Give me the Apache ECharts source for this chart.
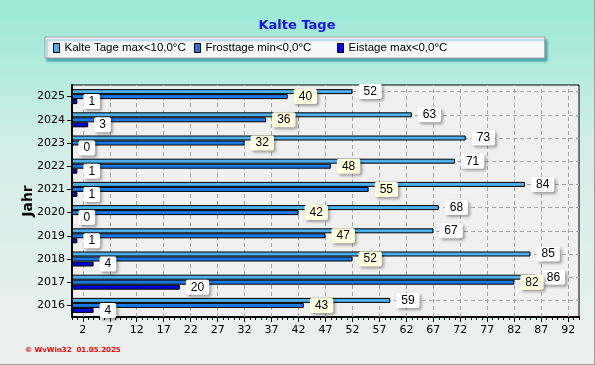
<!DOCTYPE html>
<html>
<head>
<meta charset="utf-8">
<script src="https://cdn.jsdelivr.net/npm/echarts@6/dist/echarts.min.js"></script>
<style>
html,body{margin:0;padding:0;}
#c{width:595px;height:365px;box-sizing:border-box;border-right:1px solid #a0a0a0;border-bottom:1px solid #a0a0a0;}
</style>
</head>
<body>
<div id="c"></div>
<script>
var years = ['2016','2017','2018','2019','2020','2021','2022','2023','2024','2025'];
var kalteTage = [59, 86, 85, 67, 68, 84, 71, 73, 63, 52];
var frostTage = [43, 82, 52, 47, 42, 55, 48, 32, 36, 40];
var eisTage   = [4, 20, 4, 1, 0, 1, 1, 0, 3, 1];
var xTicks = [2,7,12,17,22,27,32,37,42,47,52,57,62,67,72,77,82,87,92];
var names = ['Kalte Tage max<10,0°C', 'Frosttage min<0,0°C', 'Eistage max<0,0°C'];
var colors = ['#4eaeea', '#1a78e8', '#0000d8'];
var FONT = 'DejaVu Sans';

function labelCfg(bg) {
  return {
    show: true, position: 'right', distance: 6, formatter: '{c}',
    fontFamily: 'Liberation Sans', fontSize: 12, color: '#000',
    backgroundColor: bg, padding: [2, 5, 1, 5], borderRadius: 2,
    shadowColor: 'rgba(0,0,0,0.35)', shadowBlur: 3, shadowOffsetX: 2, shadowOffsetY: 2
  };
}

var gridLineStyle = {color: '#a8a8a8', type: [4, 3], width: 1};

var legendBase = {
  top: 37, itemWidth: 6, itemHeight: 9, itemGap: 10,
  textStyle: {fontFamily: 'Liberation Sans', fontSize: 11.5, color: '#000'},
  icon: 'rect',
  itemStyle: {borderColor: '#000', borderWidth: 1}
};
function legendAt(i, left, extra) {
  var o = Object.assign({}, legendBase, {data: [names[i]], left: left}, extra || {});
  return o;
}

var chart = echarts.init(document.getElementById('c'));
chart.setOption({
  backgroundColor: {
    type: 'linear', x: 0, y: 0, x2: 0, y2: 1,
    colorStops: [
      {offset: 0, color: '#98e9d3'},
      {offset: 0.4, color: '#d2eee6'},
      {offset: 1, color: '#eef0ef'}
    ]
  },
  animation: false,
  title: [
    {text: 'Kalte Tage', left: 'center', top: 14,
     textStyle: {fontFamily: FONT, fontSize: 13, fontWeight: 'bold', color: '#1414f0'}},
    {text: '© WvWin32  01.05.2025', left: 20, top: 342,
     textStyle: {fontFamily: FONT, fontSize: 7, fontWeight: 'bold', color: '#ff0000'}}
  ],
  legend: [
    legendAt(0, 45, {
      padding: [5, 359, 4, 8],
      backgroundColor: '#f8f8f8', borderColor: '#a0a0a0', borderWidth: 1,
      shadowColor: 'rgba(40,140,160,0.7)', shadowBlur: 2, shadowOffsetX: 2, shadowOffsetY: 3
    }),
    legendAt(1, 186, {padding: [5, 8, 4, 8], z: 5}),
    legendAt(2, 329, {padding: [5, 8, 4, 8], z: 5})
  ],
  grid: {
    left: 72, right: 15, top: 85, bottom: 47,
    show: true, backgroundColor: '#f0f0f0', borderColor: '#000', borderWidth: 1
  },
  xAxis: [{
    type: 'value', min: 0, max: 94,
    axisLine: {show: true, lineStyle: {color: '#000', width: 2}},
    axisTick: {show: true, customValues: xTicks, length: 5, lineStyle: {color: '#000'}},
    axisLabel: {customValues: xTicks, fontFamily: FONT, fontSize: 11, color: '#000', margin: 8},
    splitLine: {show: false}
  }, {
    type: 'value', min: 0, max: 94, interval: 1, position: 'bottom',
    axisLine: {show: false},
    axisTick: {show: true, length: 3, lineStyle: {color: '#000'}},
    axisLabel: {show: false},
    splitLine: {show: false}
  }],
  yAxis: {
    type: 'category', data: years,
    name: 'Jahr', nameLocation: 'middle', nameGap: 37, nameMoveOverlap: false,
    nameTextStyle: {fontFamily: FONT, fontSize: 14, fontWeight: 'bold', color: '#000'},
    axisLine: {show: true, lineStyle: {color: '#000', width: 2}},
    axisTick: {show: true, alignWithLabel: true, length: 5, lineStyle: {color: '#000'}},
    axisLabel: {fontFamily: FONT, fontSize: 11, color: '#000', margin: 7},
    splitLine: {show: false}
  },
  series: [
    {
      name: names[0], type: 'bar', data: kalteTage, barWidth: 5, barGap: '0%',
      itemStyle: {color: colors[0], borderColor: '#000', borderWidth: 1},
      label: labelCfg('#ffffff'),
      markLine: {
        silent: true, symbol: 'none', z: 1, label: {show: false},
        lineStyle: gridLineStyle,
        data: years.map(function (y) { return {yAxis: y}; })
          .concat(xTicks.map(function (v) { return {xAxis: v}; }))
      }
    },
    {
      name: names[1], type: 'bar', data: frostTage, barWidth: 5, barGap: '0%',
      itemStyle: {color: colors[1], borderColor: '#000', borderWidth: 1},
      label: labelCfg('#ffffe0')
    },
    {
      name: names[2], type: 'bar', data: eisTage, barWidth: 5, barGap: '0%',
      itemStyle: {color: colors[2], borderColor: '#000', borderWidth: 1},
      label: labelCfg('#ffffff')
    }
  ]
});
</script>
</body>
</html>
